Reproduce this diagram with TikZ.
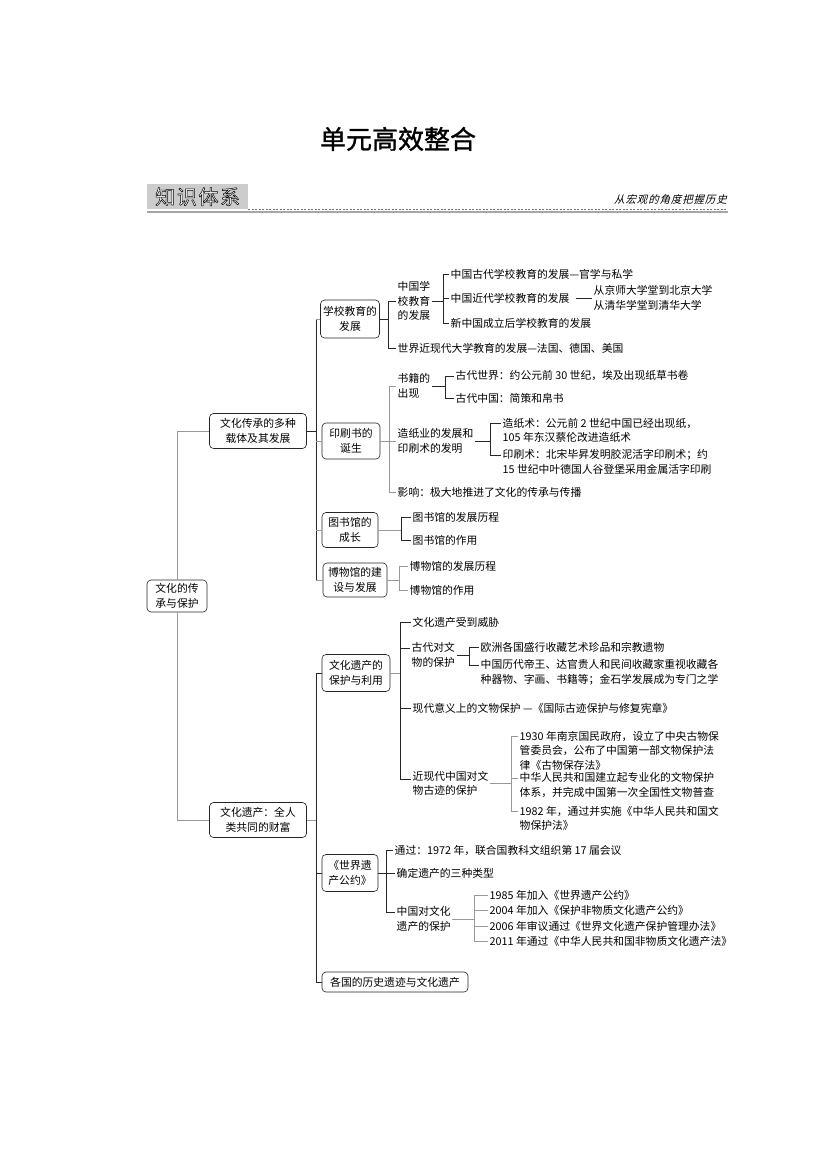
\documentclass[tikz,border=0pt]{standalone}
\usepackage{fontspec}
\setmainfont{Noto Sans CJK SC}
\newfontfamily\titlefont[FakeBold=1.2]{Noto Sans CJK SC}
\newfontfamily\hdrfont[FakeBold=2.5,LetterSpace=8]{Noto Sans CJK SC}
\newfontfamily\mottofont[FakeSlant=0.25,LetterSpace=8]{Noto Sans CJK SC}
\usetikzlibrary{calc}
\begin{document}
\begin{tikzpicture}[x=1pt,y=-1pt,
  every node/.style={font=\fontsize{10.8}{14.5}\selectfont},
  box/.style={draw=black!85, line width=0.6pt, rounded corners=4pt, align=center, fill=white, inner xsep=2pt, inner ysep=3pt, minimum height=35pt},
  tx/.style={anchor=west, inner xsep=1.5pt, inner ysep=0pt, align=left},
  blk/.style={draw=black!85, line width=0.6pt},
  gry/.style={draw=black!40, line width=0.6pt}]
\fill[white] (0,0) rectangle (826,1169);
\useasboundingbox (0,0) rectangle (826,1169);

% ---------- header ----------
\node[font=\titlefont\fontsize{26}{30}\selectfont] (title) at (398,139) {单元高效整合};
\node[fill=black!20, minimum width=101pt, minimum height=25pt, anchor=north west, inner sep=0pt,
      font=\hdrfont\fontsize{20}{20}\selectfont] (hdr) at (147,184)
      {\special{pdf:bcolor [1] [0]}知识体系\special{pdf:ecolor}};
\node[anchor=south east, inner sep=0pt, font=\mottofont\fontsize{10.5}{12}\selectfont] (motto) at (727,205) {从宏观的角度把握历史};
\coordinate (dend) at (727,0);
\draw[black!55, dash pattern=on 2pt off 1.5pt, line width=0.5pt] (hdr.south east) -- (dend |- hdr.south east);
\coordinate (u1) at (147,212);
\coordinate (u2) at (728,212);
\draw[black!35, line width=1.5pt] (u1) -- (u2);

% ---------- root and level 1 ----------
\node[box, minimum width=60pt, minimum height=32pt] (root) at (177,596) {文化的传\\承与保护};
\node[box, minimum width=97pt] (a) at (258,431) {文化传承的多种\\载体及其发展};
\node[box, minimum width=97pt] (b) at (258,820) {文化遗产：全人\\类共同的财富};
\draw[gry] (root.north) -- (root.north |- a.west) -- (a.west);
\draw[gry] (root.south) -- (root.south |- b.west) -- (b.west);

% ---------- level 2 (A) ----------
\coordinate (sa) at (316,0);
\node[box, minimum width=59pt, minimum height=38pt] (s1) at (350,319) {学校教育的\\发展};
\node[box, minimum width=58pt, minimum height=36pt] (s2) at (351,441) {印刷书的\\诞生};
\node[box, minimum width=56pt] (s3) at (350,530) {图书馆的\\成长};
\node[box, minimum width=64pt, minimum height=34pt] (s4) at (355,580) {博物馆的建\\设与发展};
\draw[blk] (a.east) -- (sa |- a.east);
\draw[blk] (sa |- s1.west) -- (sa |- s4.west);
\foreach \nn in {s1,s2,s3,s4} \draw[gry] (sa |- \nn.west) -- (\nn.west);

% group 1
\coordinate (g1) at (388,0);
\node[tx] (n11) at (396,301) {中国学\\校教育\\的发展};
\node[tx] (n12) at (396,348) {世界近现代大学教育的发展—法国、德国、美国};
\draw[blk] (s1.east) -- (g1 |- s1.east);
\draw[blk] (g1 |- n11.west) -- (g1 |- n12.west);
\draw[blk] (g1 |- n11.west) -- (n11.west);
\draw[blk] (g1 |- n12.west) -- (n12.west);
\coordinate (g11) at (443,0);
\node[tx] (n111) at (449,274) {中国古代学校教育的发展—官学与私学};
\node[tx] (n112) at (449,298) {中国近代学校教育的发展};
\node[tx] (n113) at (449,323) {新中国成立后学校教育的发展};
\node[tx] (n1121) at (592,298) {从京师大学堂到北京大学\\从清华学堂到清华大学};
\draw[blk] (n11.east) -- (g11 |- n11.east);
\draw[blk] (g11 |- n111.west) -- (g11 |- n113.west);
\foreach \nn in {n111,n112,n113} \draw[blk] (g11 |- \nn.west) -- (\nn.west);
\draw[blk, shorten <=5pt] (n112.east) -- (n1121.west);

% group 2
\coordinate (g2) at (389,0);
\node[tx] (n21) at (396,386) {书籍的\\出现};
\node[tx] (n22) at (396,441) {造纸业的发展和\\印刷术的发明};
\node[tx] (n23) at (396,492) {影响：极大地推进了文化的传承与传播};
\draw[gry] (s2.east) -- (g2 |- s2.east);
\draw[gry] (g2 |- n21.west) -- (g2 |- n23.west);
\foreach \nn in {n21,n22,n23} \draw[gry] (g2 |- \nn.west) -- (\nn.west);
\coordinate (g21) at (445,0);
\node[tx] (n211) at (454,376) {古代世界：约公元前 30 世纪，埃及出现纸草书卷};
\node[tx] (n212) at (454,398) {古代中国：简策和帛书};
\draw[blk] (n21.east) -- (g21 |- n21.east);
\draw[blk] (g21 |- n211.west) -- (g21 |- n212.west);
\foreach \nn in {n211,n212} \draw[blk] (g21 |- \nn.west) -- (\nn.west);
\coordinate (g22) at (490,0);
\node[tx] (n221) at (501,430.5) {造纸术：公元前 2 世纪中国已经出现纸，\\105 年东汉蔡伦改进造纸术};
\node[tx] (n222) at (501,462) {印刷术：北宋毕昇发明胶泥活字印刷术；约\\15 世纪中叶德国人谷登堡采用金属活字印刷};
\coordinate (n221t) at ($(n221.north west)+(0,5.5)$);
\coordinate (n222t) at ($(n222.north west)+(0,5.5)$);
\draw[blk] (n22.east) -- (g22 |- n22.east);
\draw[blk] (g22 |- n221t) -- (g22 |- n222t);
\draw[blk] (g22 |- n221t) -- (n221t);
\draw[blk] (g22 |- n222t) -- (n222t);

% group 3
\coordinate (g3) at (401,0);
\node[tx] (n31) at (411,517) {图书馆的发展历程};
\node[tx] (n32) at (411,540) {图书馆的作用};
\draw[gry] (s3.east) -- (g3 |- s3.east);
\draw[blk] (g3 |- n31.west) -- (g3 |- n32.west);
\foreach \nn in {n31,n32} \draw[blk] (g3 |- \nn.west) -- (\nn.west);

% group 4
\coordinate (g4) at (399,0);
\node[tx] (n41) at (408,566) {博物馆的发展历程};
\node[tx] (n42) at (408,590) {博物馆的作用};
\draw[gry] (s4.east) -- (g4 |- s4.east);
\draw[gry] (g4 |- n41.west) -- (g4 |- n42.west);
\foreach \nn in {n41,n42} \draw[gry] (g4 |- \nn.west) -- (\nn.west);

% ---------- level 2 (B) ----------
\coordinate (sb) at (316,0);
\node[box, minimum width=68pt, minimum height=37pt] (t1) at (356,673) {文化遗产的\\保护与利用};
\node[box, minimum width=56pt, minimum height=37pt] (t2) at (350,873) {《世界遗\\产公约》};
\node[box, minimum width=146pt, minimum height=20pt, inner ysep=1pt] (t3) at (395,982) {各国的历史遗迹与文化遗产};
\draw[gry] (b.east) -- (sb |- b.east);
\draw[blk] (sb |- t1.west) -- (sb |- t3.west);
\foreach \nn in {t1,t2,t3} \draw[blk] (sb |- \nn.west) -- (\nn.west);

% group 5
\coordinate (g5) at (400,0);
\node[tx] (n51) at (411,622) {文化遗产受到威胁};
\node[tx] (n52) at (410,655) {古代对文\\物的保护};
\node[tx] (n53) at (411,708) {现代意义上的文物保护 —《国际古迹保护与修复宪章》};
\node[tx] (n54) at (411,783.5) {近现代中国对文\\物古迹的保护};
\coordinate (n52t) at ($(n52.north west)+(0,5.5)$);
\coordinate (n54t) at ($(n54.north west)+(0,8)$);
\draw[gry] (t1.east) -- (g5 |- t1.east);
\draw[blk] (g5 |- n51.west) -- (g5 |- n54t);
\draw[blk] (g5 |- n51.west) -- (n51.west);
\draw[blk] (g5 |- n52t) -- (n52t);
\draw[blk] (g5 |- n53.west) -- (n53.west);
\draw[blk] (g5 |- n54t) -- (n54t);
\coordinate (g52) at (469,0);
\node[tx] (n521) at (479,647) {欧洲各国盛行收藏艺术珍品和宗教遗物};
\node[tx] (n522) at (479,672.5) {中国历代帝王、达官贵人和民间收藏家重视收藏各\\种器物、字画、书籍等；金石学发展成为专门之学};
\coordinate (n522t) at ($(n522.north west)+(0,5.5)$);
\draw[blk] (n52.east) -- (g52 |- n52.east);
\draw[blk] (g52 |- n521.west) -- (g52 |- n522t);
\draw[blk] (g52 |- n521.west) -- (n521.west);
\draw[blk] (g52 |- n522t) -- (n522t);
\coordinate (g54) at (511,0);
\node[tx] (n541) at (518,750.5) {1930 年南京国民政府，设立了中央古物保\\管委员会，公布了中国第一部文物保护法\\律《古物保存法》};
\node[tx] (n542) at (518,785) {中华人民共和国建立起专业化的文物保护\\体系，并完成中国第一次全国性文物普查};
\node[tx] (n543) at (518,818.5) {1982 年，通过并实施《中华人民共和国文\\物保护法》};
\coordinate (n541t) at ($(n541.north west)+(0,5.5)$);
\coordinate (n542t) at ($(n542.north west)+(0,5.5)$);
\coordinate (n543t) at ($(n543.north west)+(0,5.5)$);
\draw[gry] (n54.east) -- (g54 |- n54.east);
\draw[gry] (g54 |- n541t) -- (g54 |- n543t);
\draw[gry] (g54 |- n541t) -- (n541t);
\draw[gry] (g54 |- n542t) -- (n542t);
\draw[gry] (g54 |- n543t) -- (n543t);

% group 6
\coordinate (g6) at (386,0);
\node[tx] (n61) at (393,850) {通过：1972 年，联合国教科文组织第 17 届会议};
\node[tx] (n62) at (395,873) {确定遗产的三种类型};
\node[tx] (n63) at (395,919) {中国对文化\\遗产的保护};
\coordinate (n63t) at ($(n63.north west)+(0,5.5)$);
\draw[blk] (t2.east) -- (g6 |- t2.east);
\draw[blk] (g6 |- n61.west) -- (g6 |- n63t);
\draw[blk] (g6 |- n61.west) -- (n61.west);
\draw[blk] (g6 |- n62.west) -- (n62.west);
\draw[blk] (g6 |- n63t) -- (n63t);
\coordinate (g63) at (474,0);
\node[tx] (n631) at (488,895) {1985 年加入《世界遗产公约》};
\node[tx] (n632) at (488,910) {2004 年加入《保护非物质文化遗产公约》};
\node[tx] (n633) at (488,926) {2006 年审议通过《世界文化遗产保护管理办法》};
\node[tx] (n634) at (488,941) {2011 年通过《中华人民共和国非物质文化遗产法》};
\draw[gry] (n63.east) -- (g63 |- n63.east);
\draw[gry] (g63 |- n631.west) -- (g63 |- n634.west);
\foreach \nn in {n631,n632,n633,n634} \draw[gry] (g63 |- \nn.west) -- (\nn.west);
\end{tikzpicture}
\end{document}
